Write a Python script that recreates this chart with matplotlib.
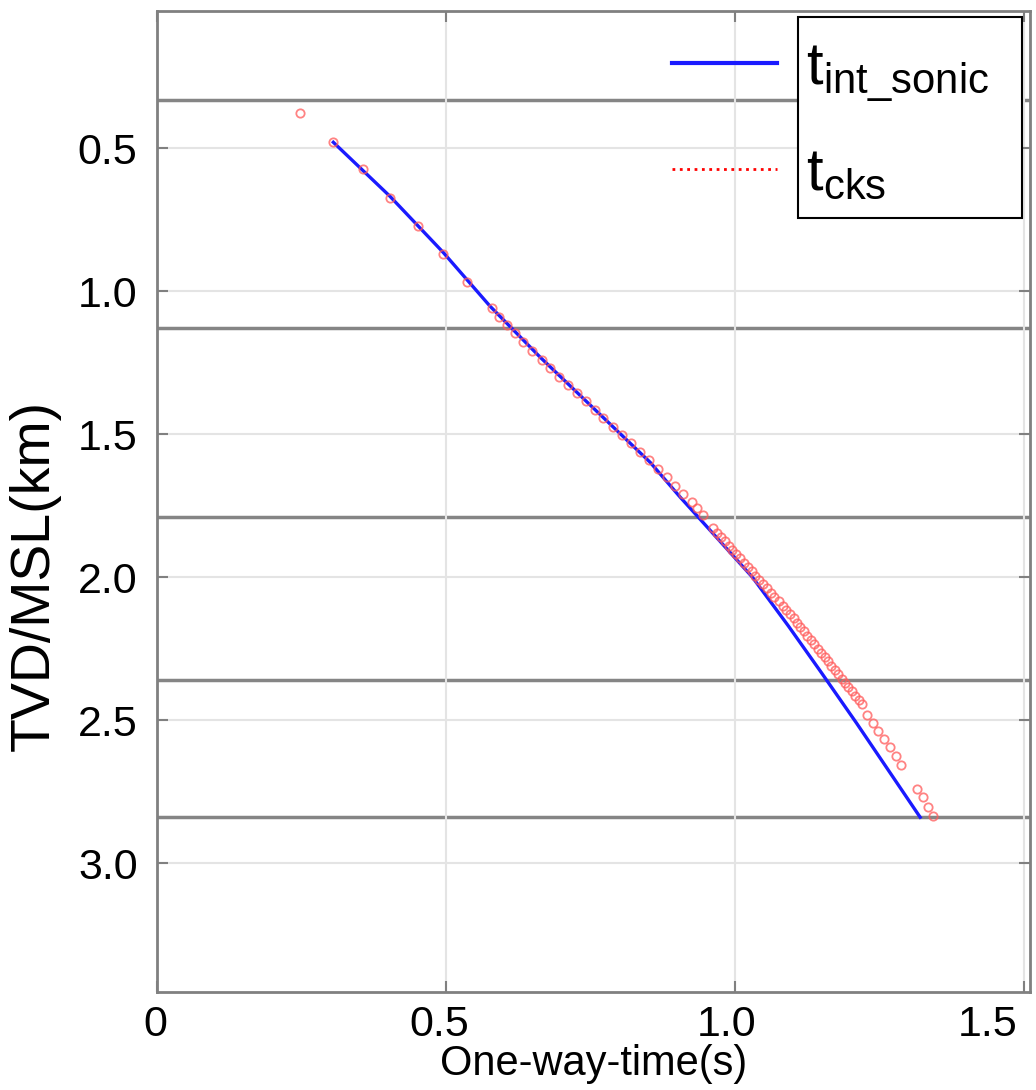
import matplotlib
matplotlib.use("Agg")
import matplotlib.pyplot as plt
from matplotlib.lines import Line2D
from matplotlib.patches import Rectangle
from matplotlib.transforms import ScaledTranslation

plt.rcParams['font.family'] = ['Liberation Sans', 'DejaVu Sans']
plt.rcParams['mathtext.default'] = 'regular'

# sonic integrated time-depth curve
t_sonic = [0.305, 0.403, 0.495, 0.576, 0.663, 0.766, 0.853, 0.905, 0.935,
           1.030, 1.092, 1.148, 1.210, 1.320]
d_sonic = [0.479, 0.668, 0.864, 1.052, 1.231, 1.430, 1.598, 1.720, 1.787,
           2.000, 2.170, 2.330, 2.510, 2.839]

# checkshot points
t_cks = [0.247, 0.305, 0.356, 0.403, 0.452, 0.495, 0.536,
         0.580, 0.592, 0.606, 0.619, 0.633, 0.649, 0.666, 0.680, 0.696, 0.711,
         0.727, 0.742, 0.758, 0.772, 0.789, 0.804, 0.820, 0.836, 0.851, 0.867,
         0.882, 0.896, 0.910, 0.926, 0.934, 0.945,
         0.962, 0.969, 0.975, 0.982, 0.989, 0.995, 1.002, 1.009, 1.015, 1.022,
         1.029, 1.035, 1.042, 1.049, 1.055, 1.062, 1.068, 1.075, 1.082, 1.088,
         1.095, 1.101, 1.107, 1.113, 1.119, 1.125, 1.131, 1.137, 1.143, 1.149,
         1.155, 1.161, 1.166, 1.172, 1.178, 1.184, 1.190, 1.196, 1.202, 1.208,
         1.214, 1.220,
         1.228, 1.239, 1.247, 1.258, 1.268, 1.279, 1.287,
         1.315, 1.325, 1.334, 1.343]
d_cks = [0.378, 0.479, 0.573, 0.675, 0.773, 0.871, 0.969,
         1.059, 1.091, 1.119, 1.147, 1.178, 1.210, 1.241, 1.269, 1.301, 1.329,
         1.357, 1.385, 1.416, 1.444, 1.476, 1.503, 1.531, 1.563, 1.591, 1.622,
         1.650, 1.682, 1.710, 1.738, 1.759, 1.783,
         1.829, 1.844, 1.859, 1.874, 1.889, 1.904, 1.919, 1.934, 1.949, 1.964,
         1.979, 1.994, 2.009, 2.024, 2.039, 2.054, 2.069, 2.084, 2.099, 2.114,
         2.129, 2.144, 2.159, 2.174, 2.189, 2.204, 2.219, 2.234, 2.249, 2.264,
         2.279, 2.294, 2.309, 2.324, 2.339, 2.354, 2.369, 2.384, 2.399, 2.414,
         2.429, 2.444,
         2.483, 2.510, 2.538, 2.566, 2.594, 2.626, 2.657,
         2.741, 2.769, 2.804, 2.836]

# formation tops (km)
tops = [0.332, 1.129, 1.790, 2.360, 2.839]

xticks = [0, 0.5, 1.0, 1.5]
xticklabels = ['0', '0.5', '1.0', '1.5']
yticks = [0.5, 1.0, 1.5, 2.0, 2.5, 3.0]
yticklabels = ['0.5', '1.0', '1.5', '2.0', '2.5', '3.0']

W, H = 1036, 1090
fig = plt.figure(figsize=(W / 100, H / 100), dpi=100)
ax = fig.add_axes([157 / W, 1 - 992 / H, (1030 - 157) / W, (992 - 11) / H])

ax.grid(True, color='#e4e4e4', linewidth=1.5, zorder=0)
for d in tops:
    ax.axhline(d, color='#858585', linewidth=2.5, zorder=1)

ax.plot(t_sonic, d_sonic, color='#1a1aff', linewidth=2.4, zorder=3)
ax.plot(t_cks, d_cks, linestyle='none', marker='o', markersize=6,
        markerfacecolor='none', markeredgecolor='#ff5a5a',
        markeredgewidth=1.3, alpha=0.75, zorder=4)

ax.set_xlim(0, 1.51)
ax.set_ylim(3.45, 0.02)
ax.set_xticks(xticks)
ax.set_xticklabels(xticklabels)
ax.set_yticks(yticks)
ax.set_yticklabels(yticklabels)
ax.tick_params(direction='in', length=8, width=1.5, color='#808080',
               labelsize=31, top=True, right=True)
ax.tick_params(axis='y', pad=14)
ax.tick_params(axis='x', pad=9)
# x labels in the original sit a bit left of their ticks
shifts = [-2, -7, -9, -37]
for lab, dx in zip(ax.get_xticklabels(), shifts):
    lab.set_transform(lab.get_transform() + ScaledTranslation(dx / 100, 0, fig.dpi_scale_trans))
for s in ax.spines.values():
    s.set_color('#808080')
    s.set_linewidth(2)

ax.set_xlabel('One-way-time(s)', fontsize=30, labelpad=0)
ax.set_ylabel('TVD/MSL(km)', fontsize=40)
ax.yaxis.set_label_coords(-0.11, 0.425)

# legend: handles sit outside the text box
box = Rectangle((798 / W, 1 - 218 / H), (1022 - 798) / W, (218 - 17) / H,
                transform=fig.transFigure, facecolor='white',
                edgecolor='black', linewidth=1.5, zorder=5, clip_on=False)
ax.add_artist(box)
handles = [Line2D([], [], color='#1a1aff', linewidth=3),
           Line2D([], [], color='red', linewidth=2, linestyle=':')]
labels = [r'$t_{int\_sonic}$', r'$t_{cks}$']
leg = ax.legend(handles, labels, loc='upper left',
                bbox_to_anchor=(672 / W, 1 - 41 / H),
                bbox_transform=fig.transFigure, frameon=False, fontsize=43,
                handlelength=1.75, handletextpad=0.5, labelspacing=0.73,
                borderpad=0, borderaxespad=0)
leg.set_zorder(6)

fig.savefig('out.png', dpi=100)
